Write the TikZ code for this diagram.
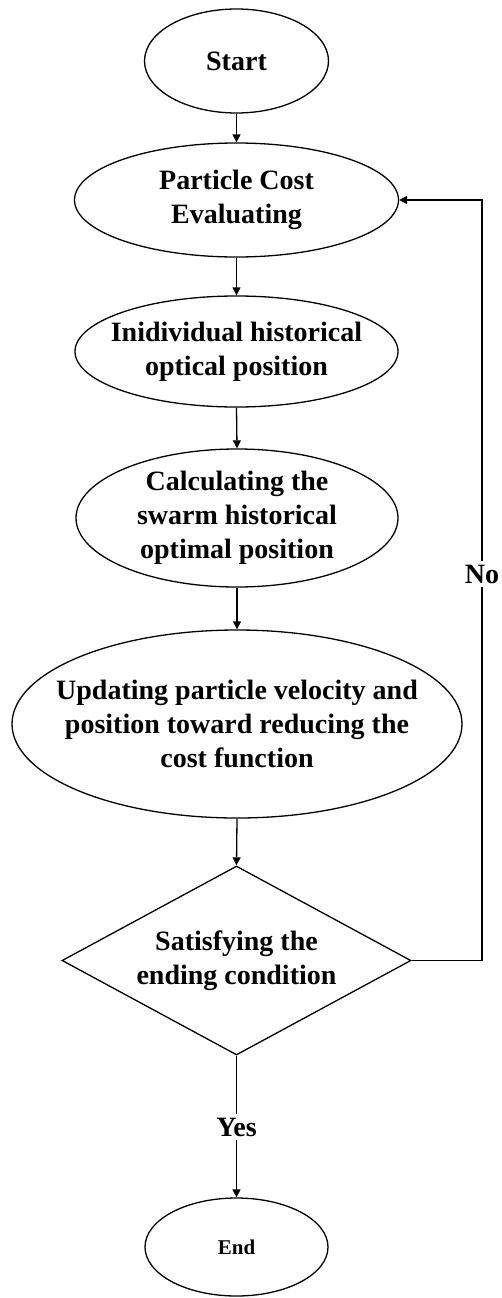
\documentclass[tikz,border=0pt]{standalone}
\usepackage{fontspec}
\setmainfont{Liberation Serif}
\usetikzlibrary{shapes.geometric,arrows.meta}
\begin{document}
\begin{tikzpicture}[x=1pt,y=-1pt,
  shp/.style={draw, line width=1.3pt, inner sep=0pt},
  ell/.style={shp, ellipse},
  txt/.style={font=\fontsize{28}{34}\selectfont\bfseries, align=center, inner sep=0pt},
  arr/.style={line width=1.3pt, -{Triangle[length=8pt,width=8pt]}},
  lbl/.style={font=\fontsize{28}{34}\selectfont\bfseries, fill=white, inner sep=4pt}]
\useasboundingbox (0,0) rectangle (502,1298);
\node[ell, minimum width=184pt, minimum height=104pt, label={[txt]center:Start}] (start) at (236.5,61) {};
\node[ell, minimum width=324pt, minimum height=114pt, label={[txt]center:Particle Cost\\Evaluating}] (pce) at (236.5,200) {};
\node[ell, minimum width=323pt, minimum height=111pt, label={[txt]center:Inidividual historical\\optical position}] (ind) at (236.5,351.5) {};
\node[ell, minimum width=322pt, minimum height=138pt, label={[txt]center:Calculating the\\swarm historical\\optimal position}] (calc) at (237,518) {};
\node[ell, minimum width=450pt, minimum height=188pt, label={[txt]center:Updating particle velocity and\\position toward reducing the\\cost function}] (upd) at (237,724) {};
\node[shp, diamond, minimum width=349pt, minimum height=189pt, label={[txt]center:Satisfying the\\ending condition}] (dec) at (236.5,960.5) {};
\node[ell, minimum width=183pt, minimum height=98pt, label={[txt, font=\fontsize{21}{25}\selectfont\bfseries]center:End}] (end) at (236.5,1247) {};
\draw[arr] (start.south) -- (pce.north);
\draw[arr] (pce.south) -- (ind.north);
\draw[arr] (ind.south) -- (calc.north);
\draw[arr] (calc.south) -- (upd.north);
\draw[arr] (upd.south) -- (dec.north);
\draw[arr] (dec.south) -- (end.north);
\coordinate (c1) at (482,960.5);
\coordinate (c2) at (482,200);
\draw[arr] (dec.east) -- (c1) -- (c2) -- (pce.east);
\node[lbl] (no) at (482,574) {No};
\node[lbl] (yes) at (236.5,1127) {Yes};
\end{tikzpicture}
\end{document}
